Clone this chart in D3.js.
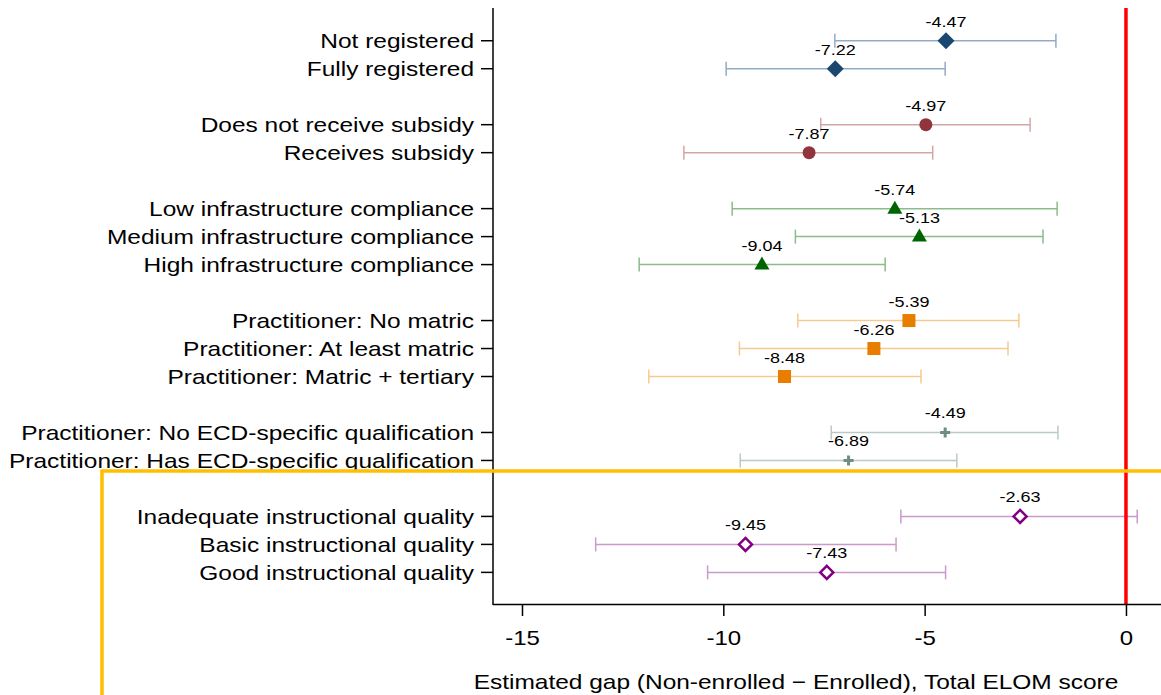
<!DOCTYPE html>
<html><head><meta charset="utf-8">
<script src="https://cdn.jsdelivr.net/npm/d3@7"></script>
<style>body{margin:0;background:#fff;overflow:hidden}svg{display:block;font-family:"Liberation Sans",Arial,sans-serif}</style>
</head><body><svg id="c" width="1161" height="695"></svg>
<script>
const categories = ["Not registered","Fully registered","Does not receive subsidy","Receives subsidy",
 "Low infrastructure compliance","Medium infrastructure compliance","High infrastructure compliance",
 "Practitioner: No matric","Practitioner: At least matric","Practitioner: Matric + tertiary",
 "Practitioner: No ECD-specific qualification","Practitioner: Has ECD-specific qualification",
 "Inadequate instructional quality","Basic instructional quality","Good instructional quality"];
const groups = [0,0,1,1,2,2,2,3,3,3,4,4,5,5,5];
const estimates = [-4.47,-7.22,-4.97,-7.87,-5.74,-5.13,-9.04,-5.39,-6.26,-8.48,-4.49,-6.89,-2.63,-9.45,-7.43];
const ciLow  = [-7.23,-9.93,-7.58,-10.98,-9.78,-8.21,-12.09,-8.15,-9.60,-11.85,-7.32,-9.58,-5.59,-13.17,-10.39];
const ciHigh = [-1.74,-4.49,-2.38,-4.80,-1.71,-2.06,-5.98,-2.66,-2.93,-5.09,-1.69,-4.20,0.28,-5.71,-4.48];
const xTicks = [-15,-10,-5,0];
const markerColors = ["#1a476f","#90353b","#006400","#e87d00","#6e8e84","#800080"];
const ciColors = ["#93abc4","#d3a6a9","#8cbb8c","#f6c98f","#b8cbc4","#cc99cc"];
const markerShapes = ["diamond","circle","triangle","square","plus","hollowDiamond"];
const xTitle = "Estimated gap (Non-enrolled \u2212 Enrolled), Total ELOM score";

const SX = 1.2; // horizontal text stretch seen in the reference
const slots = groups.map((g,i)=> i + g);

const svg = d3.select("#c");
const x = d3.scaleLinear().domain([-15.72, 0.87]).range([493, 1161]);
const y = d3.scaleLinear().domain([-1.17, 20.13]).range([8, 604]);

function stext(parent, tx, ty, size, anchor, str){
  return parent.append("text").attr("transform",`translate(${tx},${ty}) scale(${SX},1)`)
    .attr("text-anchor",anchor).attr("font-size",size).attr("fill","#000").text(str);
}

// CI lines
const ci = svg.append("g");
categories.forEach((c,i)=>{
  const yy = y(slots[i]), col = ciColors[groups[i]];
  ci.append("line").attr("x1",x(ciLow[i])).attr("x2",x(ciHigh[i])).attr("y1",yy).attr("y2",yy).attr("stroke",col).attr("stroke-width",1.5);
  [ciLow[i],ciHigh[i]].forEach(v=>ci.append("line").attr("x1",x(v)).attr("x2",x(v)).attr("y1",yy-7).attr("y2",yy+7).attr("stroke",col).attr("stroke-width",1.5));
});

// zero line
svg.append("line").attr("x1",x(0)).attr("x2",x(0)).attr("y1",8).attr("y2",604).attr("stroke","#ff0000").attr("stroke-width",3.5);

// markers
const mk = svg.append("g");
categories.forEach((c,i)=>{
  const g = groups[i], cx = x(estimates[i]), cy = y(slots[i]), col = markerColors[g];
  const s = markerShapes[g];
  if (s==="diamond") mk.append("path").attr("d",`M${cx},${cy-8.5}L${cx+8.5},${cy}L${cx},${cy+8.5}L${cx-8.5},${cy}Z`).attr("fill",col);
  else if (s==="circle") mk.append("circle").attr("cx",cx).attr("cy",cy).attr("r",6.5).attr("fill",col);
  else if (s==="triangle") mk.append("path").attr("d",`M${cx},${cy-8}L${cx+7.5},${cy+5}L${cx-7.5},${cy+5}Z`).attr("fill",col);
  else if (s==="square") mk.append("rect").attr("x",cx-6.5).attr("y",cy-6.5).attr("width",13).attr("height",13).attr("fill",col);
  else if (s==="plus") { mk.append("path").attr("d",`M${cx-5},${cy}H${cx+5}M${cx},${cy-5}V${cy+5}`).attr("stroke",col).attr("stroke-width",3); }
  else mk.append("path").attr("d",`M${cx},${cy-6.5}L${cx+6.5},${cy}L${cx},${cy+6.5}L${cx-6.5},${cy}Z`).attr("fill","#fff").attr("stroke",col).attr("stroke-width",2.5);
  stext(mk, cx, cy-14, 15, "middle", estimates[i].toFixed(2));
});

// y axis
const yAxis = svg.append("g").attr("transform","translate(493,0)");
yAxis.append("line").attr("y1",8).attr("y2",605).attr("stroke","#000").attr("stroke-width",1.5);
categories.forEach((c,i)=>{
  const yy = y(slots[i]);
  yAxis.append("line").attr("x1",-12).attr("x2",0).attr("y1",yy).attr("y2",yy).attr("stroke","#000").attr("stroke-width",1.5);
  stext(yAxis, -19, yy+7.2, 20.4, "end", c);
});

// x axis
const xa = svg.append("g").attr("transform","translate(0,604)")
  .call(d3.axisBottom(x).tickValues(xTicks).tickSize(12).tickFormat(d=>String(d)));
xa.select(".domain").attr("stroke","#000").attr("stroke-width",1.5).attr("d","M493,0.5H1161");
xa.selectAll(".tick line").attr("stroke","#000").attr("stroke-width",1.5);
xa.selectAll(".tick text").attr("y",null).attr("dy",null)
  .attr("transform",`translate(0,41) scale(${SX},1)`)
  .attr("font-size",20).attr("fill","#000").attr("font-family","Liberation Sans, Arial, sans-serif");

stext(svg, 796, 689, 20.4, "middle", xTitle);

// gold highlight box
svg.append("rect").attr("x",102).attr("y",471).attr("width",1200).attr("height",400).attr("fill","none").attr("stroke","#ffbf00").attr("stroke-width",3.5);
</script></body></html>
